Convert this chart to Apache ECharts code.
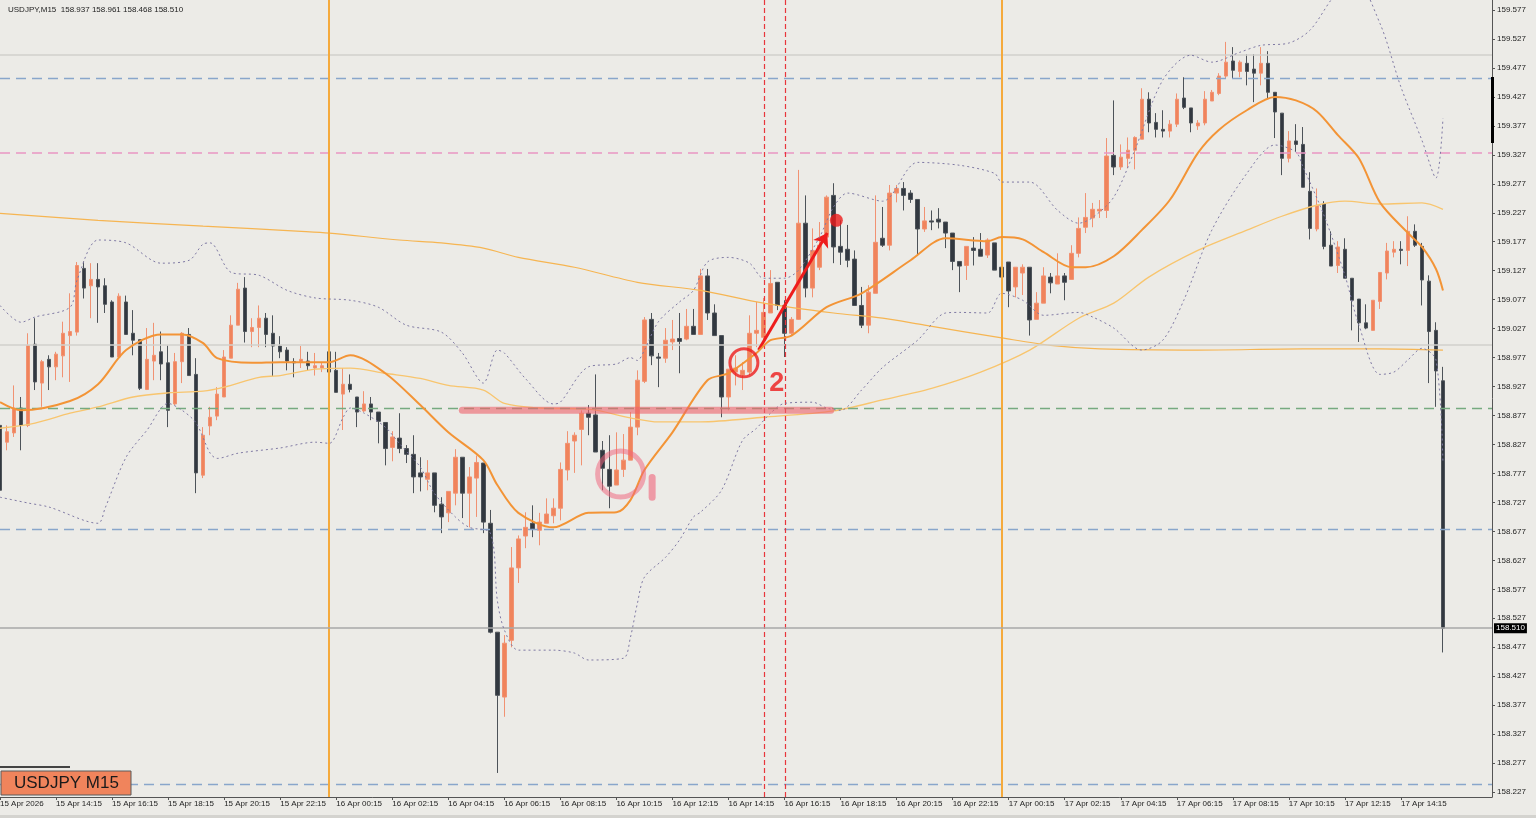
<!DOCTYPE html>
<html>
<head>
<meta charset="utf-8">
<title>USDJPY M15</title>
<script src="https://cdn.jsdelivr.net/npm/echarts@6/dist/echarts.min.js"></script>
<style>
  html, body { margin: 0; padding: 0; background: #ecebe7; }
  #chart { width: 1536px; height: 818px; }
</style>
</head>
<body>
<div id="chart"></div>
<script>
const headerText = 'USDJPY,M15  158.937 158.961 158.468 158.510'
const symbolLabel = 'USDJPY M15'

// one label every 8 bars (2 hours), first bar is 15 Apr 12:15
const timeLabels = [
  '15 Apr 2026', '15 Apr 14:15', '15 Apr 16:15', '15 Apr 18:15', '15 Apr 20:15', '15 Apr 22:15',
  '16 Apr 00:15', '16 Apr 02:15', '16 Apr 04:15', '16 Apr 06:15', '16 Apr 08:15', '16 Apr 10:15',
  '16 Apr 12:15', '16 Apr 14:15', '16 Apr 16:15', '16 Apr 18:15', '16 Apr 20:15', '16 Apr 22:15',
  '17 Apr 00:15', '17 Apr 02:15', '17 Apr 04:15', '17 Apr 06:15', '17 Apr 08:15', '17 Apr 10:15',
  '17 Apr 12:15', '17 Apr 14:15'
]
const priceTicks = [
  159.577, 159.527, 159.477, 159.427, 159.377, 159.327, 159.277, 159.227, 159.177, 159.127,
  159.077, 159.027, 158.977, 158.927, 158.877, 158.827, 158.777, 158.727, 158.677, 158.627,
  158.577, 158.527, 158.477, 158.427, 158.377, 158.327, 158.277, 158.227
]

// [open, high, low, close]
const candles = [
  [158.860,158.869,158.739,158.748],[158.831,158.860,158.817,158.849],[158.847,158.929,158.840,158.890],
  [158.890,158.909,158.817,158.860],[158.860,159.019,158.857,158.998],[159.000,159.045,158.921,158.935],
  [158.933,158.973,158.892,158.970],[158.974,158.981,158.921,158.961],[158.961,158.987,158.938,158.983],
  [158.980,159.039,158.943,159.019],[159.015,159.088,158.935,159.022],[159.021,159.142,159.015,159.136],
  [159.131,159.143,159.079,159.097],[159.101,159.140,159.045,159.112],[159.112,159.140,159.037,159.099],
  [159.101,159.114,159.054,159.069],[159.073,159.076,158.978,158.978],[158.978,159.088,158.978,159.083],
  [159.073,159.084,159.017,159.017],[159.019,159.059,158.981,159.007],[159.008,159.008,158.921,158.924],
  [158.922,159.028,158.921,158.974],[158.971,159.037,158.938,158.981],[158.987,159.022,158.938,158.966],
  [158.968,158.998,158.857,158.886],[158.897,158.985,158.895,158.970],[158.970,159.021,158.933,159.019],
  [159.017,159.028,158.946,158.946],[158.948,158.976,158.743,158.778],[158.774,158.857,158.769,158.843],
  [158.859,158.892,158.843,158.874],[158.876,158.926,158.869,158.914],[158.909,158.990,158.909,158.978],
  [158.976,159.050,158.976,159.033],[159.033,159.106,159.033,159.095],[159.097,159.116,159.003,159.022],
  [159.022,159.045,158.995,159.029],[159.029,159.067,158.995,159.045],[159.045,159.054,158.995,159.017],
  [159.019,159.050,158.945,158.997],[158.997,159.014,158.976,158.987],[158.990,158.995,158.955,158.971],
  [158.970,158.976,158.943,158.968],[158.970,158.997,158.959,158.974],[158.971,158.987,158.955,158.963],
  [158.959,158.985,158.946,158.963],[158.959,158.968,158.952,158.963],[158.987,158.987,158.938,158.952],
  [158.955,158.987,158.917,158.917],[158.914,158.959,158.852,158.931],[158.931,158.948,158.917,158.922],
  [158.909,158.909,158.857,158.883],[158.885,158.919,158.883,158.897],[158.897,158.909,158.869,158.883],
  [158.883,158.883,158.829,158.867],[158.865,158.865,158.791,158.820],[158.822,158.850,158.798,158.840],
  [158.838,158.881,158.812,158.820],[158.820,158.826,158.795,158.810],[158.810,158.843,158.743,158.771],
  [158.778,158.805,158.746,158.771],[158.767,158.800,158.748,158.778],[158.778,158.778,158.710,158.722],
  [158.724,158.736,158.674,158.702],[158.709,158.746,158.693,158.746],[158.743,158.819,158.722,158.805],
  [158.805,158.805,158.700,158.743],[158.743,158.788,158.684,158.771],[158.769,158.808,158.702,158.796],
  [158.795,158.795,158.674,158.693],[158.691,158.714,158.501,158.503],[158.503,158.503,158.260,158.394],
  [158.391,158.498,158.357,158.484],[158.489,158.650,158.477,158.614],[158.614,158.670,158.588,158.664],
  [158.669,158.710,158.648,158.684],[158.691,158.722,158.667,158.681],[158.679,158.709,158.653,158.693],
  [158.691,158.734,158.691,158.707],[158.704,158.734,158.691,158.717],[158.717,158.796,158.696,158.784],
  [158.783,158.850,158.765,158.829],[158.833,158.848,158.778,158.843],[158.853,158.886,158.791,158.881],
  [158.881,158.895,158.843,158.874],[158.878,158.948,158.814,158.814],[158.817,158.833,158.748,158.786],
  [158.784,158.843,158.717,158.755],[158.757,158.848,158.757,158.783],[158.784,158.845,158.771,158.800],
  [158.800,158.883,158.800,158.857],[158.857,158.955,158.843,158.938],[158.936,159.047,158.933,159.042],
  [159.043,159.054,158.964,158.980],[158.978,158.985,158.926,158.976],[158.976,159.028,158.968,159.007],
  [159.004,159.042,158.990,159.009],[159.010,159.054,158.950,159.005],[159.009,159.061,159.007,159.031],
  [159.031,159.061,159.017,159.017],[159.017,159.130,159.017,159.118],[159.118,159.130,159.042,159.054],
  [159.054,159.069,159.015,159.015],[159.015,159.015,158.874,158.909],[158.909,158.957,158.886,158.957],
  [158.952,158.981,158.929,158.959],[158.947,158.969,158.921,158.955],[158.952,159.050,158.947,159.019],
  [159.019,159.073,158.995,159.024],[159.012,159.080,159.007,159.055],[159.054,159.128,159.054,159.105],
  [159.107,159.107,159.059,159.067],[159.067,159.076,158.978,159.019],[159.019,159.047,159.015,159.043],
  [159.043,159.301,159.042,159.209],[159.209,159.257,159.081,159.097],[159.097,159.200,159.081,159.162],
  [159.133,159.211,159.128,159.171],[159.185,159.257,159.180,159.254],[159.257,159.278,159.140,159.168],
  [159.169,159.214,159.137,159.159],[159.164,159.206,159.133,159.145],[159.147,159.162,159.067,159.067],
  [159.067,159.099,159.028,159.033],[159.033,159.102,159.019,159.090],[159.088,159.257,159.088,159.176],
  [159.183,159.237,159.168,159.171],[159.171,159.275,159.162,159.261],[159.261,159.275,159.245,159.269],
  [159.269,159.280,159.231,159.257],[159.261,159.266,159.244,159.250],[159.250,159.250,159.154,159.199],
  [159.199,159.237,159.194,159.213],[159.213,159.231,159.197,159.211],[159.216,159.235,159.200,159.211],
  [159.211,159.211,159.166,159.192],[159.192,159.192,159.128,159.143],[159.143,159.143,159.090,159.135],
  [159.136,159.169,159.111,159.169],[159.166,159.185,159.136,159.162],[159.164,159.192,159.152,159.152],
  [159.154,159.183,159.149,159.180],[159.175,159.175,159.128,159.128],[159.133,159.145,159.088,159.116],
  [159.142,159.142,159.064,159.092],[159.099,159.133,159.081,159.133],[159.123,159.138,159.085,159.133],
  [159.133,159.133,159.015,159.042],[159.043,159.090,159.043,159.071],[159.071,159.133,159.071,159.118],
  [159.116,159.123,159.088,159.106],[159.104,159.157,159.104,159.118],[159.118,159.123,159.076,159.107],
  [159.112,159.171,159.112,159.157],[159.157,159.219,159.150,159.200],[159.202,159.261,159.192,159.219],
  [159.218,159.244,159.202,159.233],[159.230,159.249,159.218,159.233],[159.231,159.356,159.218,159.325],
  [159.326,159.421,159.292,159.306],[159.306,159.345,159.301,159.323],[159.321,159.357,159.304,159.335],
  [159.335,159.359,159.302,159.357],[159.354,159.442,159.354,159.423],[159.423,159.435,159.366,159.382],
  [159.383,159.399,159.357,159.371],[159.371,159.404,159.357,159.368],[159.368,159.387,159.357,159.380],
  [159.380,159.433,159.375,159.423],[159.425,159.461,159.406,159.409],[159.408,159.408,159.366,159.382],
  [159.377,159.387,159.370,159.382],[159.382,159.437,159.378,159.423],[159.420,159.439,159.420,159.435],
  [159.433,159.468,159.430,159.463],[159.463,159.522,159.458,159.487],[159.489,159.513,159.459,159.473],
  [159.471,159.490,159.461,159.487],[159.485,159.501,159.447,159.471],[159.475,159.501,159.418,159.468],
  [159.468,159.513,159.447,159.485],[159.485,159.506,159.425,159.435],[159.435,159.435,159.356,159.401],
  [159.399,159.399,159.292,159.321],[159.321,159.368,159.314,159.351],[159.351,159.380,159.332,159.345],
  [159.345,159.375,159.271,159.271],[159.264,159.297,159.181,159.200],[159.199,159.269,159.195,159.240],
  [159.242,159.247,159.164,159.169],[159.171,159.195,159.135,159.135],[159.136,159.178,159.123,159.168],
  [159.164,159.183,159.114,159.114],[159.114,159.114,159.024,159.076],[159.078,159.078,159.004,159.037],
  [159.037,159.069,159.026,159.028],[159.024,159.076,159.024,159.076],[159.074,159.124,159.061,159.124],
  [159.123,159.175,159.112,159.161],[159.159,159.178,159.150,159.164],[159.164,159.178,159.138,159.162],
  [159.162,159.221,159.135,159.195],[159.195,159.207,159.168,159.171],[159.169,159.175,159.067,159.111],
  [159.109,159.119,158.933,159.022],[159.024,159.038,158.892,158.954],[158.937,158.961,158.468,158.510]
]

// indicator lines: [bar index, price]
const maFast = [
  [0,158.900],[3,158.886],[10,158.902],[14,158.931],[18,158.990],[23,159.017],[26,159.017],[29,159.002],
  [31,158.976],[36,158.968],[40,158.969],[47,158.969],[50,158.981],[55,158.950],[60,158.895],[64,158.848],
  [69,158.800],[71,158.757],[74,158.709],[79,158.684],[84,158.709],[88,158.710],[90,158.731],[92,158.783],
  [96,158.848],[101,158.938],[104,158.950],[108,158.985],[110,159.007],[113,159.015],[118,159.064],
  [123,159.088],[130,159.145],[135,159.183],[141,159.178],[143,159.185],[146,159.181],[149,159.159],
  [153,159.133],[155,159.133],[159,159.152],[163,159.197],[167,159.249],[171,159.330],[174,159.370],
  [178,159.404],[182,159.427],[185,159.421],[188,159.402],[191,159.361],[194,159.321],[197,159.245],
  [201,159.192],[203,159.168],[205,159.130],[206,159.093]
]
const maMid = [
  [0,158.855],[5,158.864],[10,158.881],[14,158.892],[19,158.909],[24,158.916],[29,158.919],[32,158.926],
  [37,158.943],[40,158.946],[45,158.957],[50,158.959],[55,158.950],[60,158.941],[64,158.929],[69,158.921],
  [72,158.898],[77,158.890],[84,158.888],[90,158.873],[94,158.866],[100,158.866],[109,158.874],
  [119,158.885],[126,158.904],[133,158.924],[140,158.952],[147,158.990],[154,159.045],[159,159.071],
  [164,159.116],[171,159.162],[178,159.197],[183,159.221],[188,159.240],[192,159.247],[197,159.242],
  [203,159.244],[206,159.233]
]
const maSlow = [
  [0,159.226],[14,159.214],[29,159.204],[43,159.195],[47,159.192],[57,159.180],[63,159.175],[69,159.166],
  [74,159.150],[82,159.133],[91,159.107],[100,159.093],[109,159.071],[119,159.054],[126,159.045],
  [132,159.033],[143,159.011],[150,158.998],[157,158.992],[171,158.990],[186,158.992],[197,158.992],
  [206,158.990]
]
const bandUpper = [
  [0,159.067],[3,159.038],[5,159.047],[10,159.064],[11,159.111],[14,159.180],[18,159.175],[23,159.140],
  [27,159.145],[29,159.173],[30,159.175],[33,159.124],[37,159.119],[41,159.093],[45,159.080],[50,159.076],
  [54,159.064],[58,159.033],[63,159.021],[66,158.985],[69,158.933],[71,158.990],[72,158.985],[75,158.941],
  [79,158.897],[80,158.900],[84,158.961],[88,158.966],[90,158.977],[91,158.972],[92,158.990],[94,159.039],
  [97,159.073],[99,159.093],[101,159.142],[104,159.150],[107,159.140],[109,159.114],[112,159.114],
  [114,159.128],[117,159.185],[119,159.237],[121,159.261],[126,159.247],[131,159.314],[137,159.309],
  [142,159.295],[143,159.280],[147,159.280],[151,159.231],[154,159.209],[156,159.219],[159,159.254],
  [162,159.335],[166,159.456],[170,159.499],[173,159.487],[177,159.504],[180,159.516],[184,159.520],
  [187,159.542],[190,159.594],[193,159.640],[197,159.554],[200,159.444],[203,159.352],[205,159.287],
  [206,159.390]
]
const bandLower = [
  [0,158.736],[4,158.726],[7,158.719],[14,158.691],[15,158.717],[18,158.805],[21,158.852],[24,158.898],
  [26,158.886],[28,158.864],[30,158.812],[31,158.803],[34,158.812],[40,158.821],[45,158.831],[47,158.829],
  [49,158.874],[50,158.890],[52,158.881],[55,158.857],[57,158.829],[60,158.788],[62,158.743],[65,158.702],
  [67,158.684],[70,158.674],[71,158.558],[72,158.507],[74,158.472],[79,158.472],[82,158.467],[84,158.455],
  [89,158.458],[90,158.494],[91,158.553],[92,158.598],[95,158.632],[97,158.662],[99,158.702],[100,158.710],
  [103,158.748],[106,158.834],[108,158.855],[110,158.881],[112,158.898],[116,158.900],[118,158.890],
  [120,158.886],[123,158.921],[126,158.960],[131,159.007],[135,159.054],[137,159.055],[141,159.054],
  [143,159.088],[146,159.076],[149,159.050],[154,159.055],[156,159.047],[159,159.028],[163,158.990],
  [166,159.007],[169,159.076],[173,159.197],[178,159.295],[182,159.344],[185,159.332],[186,159.307],
  [189,159.223],[192,159.119],[194,159.033],[197,158.948],[199,158.952],[201,158.973],[203,158.993],
  [205,158.973],[206,158.795]
]

const blueLevels = [159.456, 158.679, 158.239]
const pinkLevel = 159.330
const greenLevel = 158.886
const roundLevels = [159.500, 159.000]
const lastPrice = 158.510
const daySeparators = [47, 143]
const eventLines = [109.15, 112.15]

// hand drawn marks
const zoneLine = [[66, 158.886], [118.6, 158.886]]
const circleOne = [88.6, 158.776]
const tickOne = [[93.1, 158.770], [93.1, 158.736]]
const circleTwo = [106.2, 158.968]
const labelTwo = [110.9, 158.933]
const arrowLine = [[108.3, 158.990], [118.1, 159.192]]
const targetDot = [119.4, 159.214]

const barCount = 214
const categories = []
for (let i = 0; i < barCount; i++) categories.push(String(i))

const font = 'Liberation Sans, Arial, sans-serif'
const chart = echarts.init(document.getElementById('chart'))

const option = {
  animation: false,
  backgroundColor: '#ecebe7',
  title: {
    text: headerText,
    left: 3,
    top: 1,
    textStyle: {fontSize: 8, fontWeight: 'normal', color: '#222', fontFamily: font}
  },
  grid: {left: 0, top: 0, right: 44, bottom: 21, containLabel: false, outerBoundsMode: 'none'},
  xAxis: [
    {
      type: 'category',
      data: categories,
      boundaryGap: false,
      axisLine: {onZero: false, lineStyle: {color: '#555', width: 1}},
      axisTick: {
        length: 3,
        interval: (idx) => idx % 8 === 0 && idx <= 200,
        lineStyle: {color: '#555'}
      },
      axisLabel: {
        interval: (idx) => idx % 8 === 0 && idx <= 200,
        formatter: (v, idx) => timeLabels[idx / 8] || '',
        align: 'left',
        margin: 3,
        fontSize: 8,
        color: '#1e1e1e',
        fontFamily: font
      },
      splitLine: {show: false}
    },
    {type: 'value', min: 0, max: barCount - 1, show: false, axisLine: {show: false, onZero: false}}
  ],
  yAxis: {
    type: 'value',
    position: 'right',
    min: 158.2185,
    max: 159.5943,
    scale: true,
    axisLine: {show: true, onZero: false, lineStyle: {color: '#555'}},
    axisTick: {show: true, length: 3, customValues: priceTicks, lineStyle: {color: '#555'}},
    axisLabel: {
      customValues: priceTicks,
      formatter: (v) => v.toFixed(3),
      fontSize: 8,
      color: '#1e1e1e',
      margin: 5,
      fontFamily: font
    },
    splitLine: {show: false}
  },
  series: [
    {
      name: 'levels',
      type: 'line',
      xAxisIndex: 1,
      data: [],
      z: 1,
      markLine: {
        silent: true,
        symbol: ['none', 'none'],
        label: {show: false},
        data: [
          ...roundLevels.map(v => ({yAxis: v, lineStyle: {color: '#d2d1cd', width: 1.5, type: 'solid'}})),
          ...blueLevels.map(v => ({yAxis: v, lineStyle: {color: '#89a6cb', width: 1.3, type: [10, 6]}})),
          {yAxis: pinkLevel, lineStyle: {color: '#e996c4', width: 1.5, type: [10, 6]}},
          {yAxis: greenLevel, lineStyle: {color: '#76aa80', width: 1.3, type: [10, 6]}},
          ...daySeparators.map(v => ({xAxis: v, lineStyle: {color: '#f5aa3c', width: 2, type: 'solid'}})),
          ...eventLines.map(v => ({xAxis: v, lineStyle: {color: '#e8363c', width: 1.2, type: [5, 3]}}))
        ]
      }
    },
    {
      name: 'USDJPY',
      type: 'candlestick',
      xAxisIndex: 0,
      z: 3,
      barWidth: 4,
      data: candles.map(c => [c[0], c[3], c[2], c[1]]),
      itemStyle: {
        color: '#f0845c',
        borderColor: '#f19272',
        color0: '#323840',
        borderColor0: '#4d5359',
        borderWidth: 1
      },
      markLine: {
        silent: true,
        symbol: ['none', 'none'],
        data: [{
          yAxis: lastPrice,
          lineStyle: {color: '#a8a8a8', width: 1.5, type: 'solid'},
          label: {
            show: true,
            position: 'end',
            distance: 2,
            formatter: () => lastPrice.toFixed(3),
            backgroundColor: '#000',
            color: '#fff',
            fontSize: 8,
            padding: [1, 2],
            fontFamily: font
          }
        }]
      }
    },
    {
      name: 'MA slow', type: 'line', xAxisIndex: 1, data: maSlow, smooth: 0.3,
      showSymbol: false, z: 4, lineStyle: {color: '#f6b552', width: 1.2}
    },
    {
      name: 'MA mid', type: 'line', xAxisIndex: 1, data: maMid, smooth: 0.3,
      showSymbol: false, z: 4, lineStyle: {color: '#f8c56e', width: 1.3}
    },
    {
      name: 'MA fast', type: 'line', xAxisIndex: 1, data: maFast, smooth: 0.3,
      showSymbol: false, z: 5, lineStyle: {color: '#f39436', width: 2}
    },
    {
      name: 'BB upper', type: 'line', xAxisIndex: 1, data: bandUpper, smooth: 0.3,
      showSymbol: false, z: 5, lineStyle: {color: '#7f79a3', width: 1, type: [2, 3]}
    },
    {
      name: 'BB lower', type: 'line', xAxisIndex: 1, data: bandLower, smooth: 0.3,
      showSymbol: false, z: 5, lineStyle: {color: '#7f79a3', width: 1, type: [2, 3]}
    },
    // drawings
    {
      type: 'line', xAxisIndex: 1, data: zoneLine, showSymbol: false, z: 6,
      lineStyle: {color: 'rgba(238,96,106,0.6)', width: 7, cap: 'round'}
    },
    {
      type: 'line', xAxisIndex: 1, data: tickOne, showSymbol: false, z: 6,
      lineStyle: {color: 'rgba(240,110,130,0.65)', width: 7, cap: 'round'}
    },
    {
      type: 'scatter', xAxisIndex: 1, data: [circleOne], symbol: 'circle', symbolSize: 46, z: 6,
      itemStyle: {color: 'rgba(0,0,0,0)', borderColor: 'rgba(240,100,125,0.65)', borderWidth: 5}
    },
    {
      type: 'scatter', xAxisIndex: 1, data: [circleTwo], symbol: 'circle', symbolSize: 28, z: 6,
      itemStyle: {color: 'rgba(0,0,0,0)', borderColor: '#ee1c1c', borderWidth: 3}
    },
    {
      type: 'scatter', xAxisIndex: 1, data: [labelTwo], symbolSize: 0, z: 6,
      label: {
        show: true, position: 'inside', formatter: '2',
        fontSize: 27, fontWeight: 'bold', color: '#ee1c1c', fontFamily: font
      }
    },
    {
      type: 'scatter', xAxisIndex: 1, data: [targetDot], symbol: 'circle', symbolSize: 13, z: 6,
      itemStyle: {color: '#ee1c1c'}
    },
    {
      type: 'line', xAxisIndex: 1, data: [], z: 6,
      markLine: {
        silent: true,
        symbol: ['none', 'arrow'],
        symbolSize: 13,
        label: {show: false},
        lineStyle: {color: '#ee1c1c', width: 3, type: 'solid'},
        data: [[{coord: arrowLine[0]}, {coord: arrowLine[1]}]]
      }
    }
  ],
  graphic: [
    {type: 'rect', shape: {x: 0, y: 766, width: 70, height: 2}, style: {fill: '#444'}, z: 100},
    {
      type: 'rect', shape: {x: 1, y: 771, width: 130, height: 24},
      style: {fill: '#f0845c', stroke: '#5a5a5a', lineWidth: 1}, z: 100
    },
    {
      type: 'text', x: 14, y: 783, z: 101,
      style: {text: symbolLabel, fill: '#1a1a1a', fontSize: 17, fontFamily: font, verticalAlign: 'middle'}
    },
    {type: 'rect', shape: {x: 1491, y: 77, width: 3, height: 66}, style: {fill: '#000'}, z: 100},
    {type: 'rect', shape: {x: 0, y: 815, width: 1536, height: 3}, style: {fill: '#d4d3cf'}, z: 100}
  ]
}

chart.setOption(option)
window.addEventListener('resize', () => chart.resize())
</script>
</body>
</html>
